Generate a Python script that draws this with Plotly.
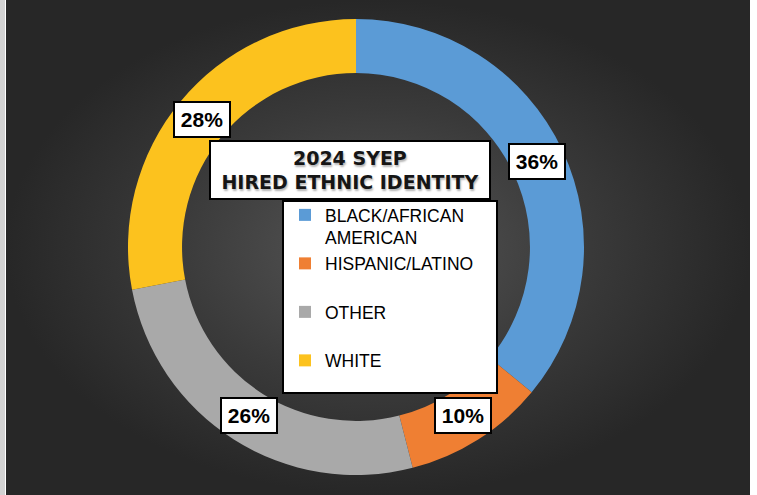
import math
import plotly.graph_objects as go

# ---- data ----
categories = ["BLACK/AFRICAN AMERICAN", "HISPANIC/LATINO", "OTHER", "WHITE"]
shares = [36, 10, 26, 28]
colors = ["#5b9bd6", "#ef7f33", "#a9a9a9", "#fcc21e"]
title_lines = ["2024 SYEP", "HIRED ETHNIC IDENTITY"]

W, H = 757, 495
CX, CY = 356, 247      # donut centre (px)
R_OUT = 228
HOLE = 0.763
R_LAB = 200            # radius where the value boxes sit


def legend_text(name):
    if name == "BLACK/AFRICAN AMERICAN":
        return "BLACK/AFRICAN<br>AMERICAN"
    return name + "<br>\u00a0"


fig = go.Figure()

# background with radial gradient (hidden pixel-like axes)
fig.add_trace(go.Scatter(
    x=[6, 750, 750, 6, 6], y=[0, 0, H, H, 0],
    mode="lines", line=dict(width=0), fill="toself",
    fillgradient=dict(type="radial",
                      colorscale=[[0, "#565656"], [0.55, "#3a3a3a"], [1, "#272727"]]),
    hoverinfo="skip", showlegend=False,
))

fig.add_trace(go.Pie(
    labels=[legend_text(c) for c in categories],
    values=shares,
    sort=False, direction="clockwise", rotation=0,
    hole=HOLE,
    marker=dict(colors=colors, line=dict(width=0)),
    textinfo="none", hoverinfo="skip",
    domain=dict(x=[(CX - R_OUT) / W, (CX + R_OUT) / W],
                y=[(H - CY - R_OUT) / H, (H - CY + R_OUT) / H]),
))

shapes = [
    dict(type="rect", xref="paper", yref="paper", x0=0, x1=5 / W, y0=0, y1=1,
         fillcolor="#d2d2d2", line=dict(width=0), layer="above"),
    # legend box
    dict(type="rect", xref="x", yref="y", x0=283, x1=497, y0=201, y1=393,
         fillcolor="white", line=dict(color="black", width=2), layer="above"),
]

annotations = [
    dict(xref="x", yref="y", x=350, y=170,
         text="<br>".join(title_lines), showarrow=False,
         font=dict(family="DejaVu Sans", size=19, color="#151515", weight="bold",
                   shadow="1px 2px 2px rgba(0,0,0,0.3)"),
         bgcolor="white", bordercolor="black", borderwidth=2, borderpad=0,
         width=278, height=56, align="center", valign="middle"),
]

total = sum(shares)
cum = 0
for v in shares:
    mid = (cum + v / 2) / total * 2 * math.pi
    cum += v
    lx = CX + R_LAB * math.sin(mid)
    ly = CY - R_LAB * math.cos(mid)
    annotations.append(dict(
        xref="x", yref="y", x=lx, y=ly, text=f"{round(v / total * 100)}%",
        showarrow=False,
        font=dict(family="Liberation Sans", size=21, color="black", weight="bold"),
        bgcolor="white", bordercolor="black", borderwidth=2, borderpad=0,
        width=54, height=33, align="center", valign="middle",
    ))

fig.update_layout(
    width=W, height=H,
    margin=dict(l=0, r=0, t=0, b=0),
    paper_bgcolor="white", plot_bgcolor="rgba(0,0,0,0)",
    xaxis=dict(range=[0, W], visible=False, fixedrange=True),
    yaxis=dict(range=[H, 0], visible=False, fixedrange=True),
    shapes=shapes, annotations=annotations,
    showlegend=True,
    legend=dict(x=285 / W, y=1 - 197 / H, xanchor="left", yanchor="top",
                bgcolor="rgba(0,0,0,0)", borderwidth=0, valign="top",
                font=dict(family="Liberation Sans", size=17.5, color="black"),
                tracegroupgap=0),
)

fig.write_html(
    "out.html",
    config={"displayModeBar": False, "staticPlot": True},
    post_script="document.body.style.margin='0';document.body.style.overflow='hidden';",
)
